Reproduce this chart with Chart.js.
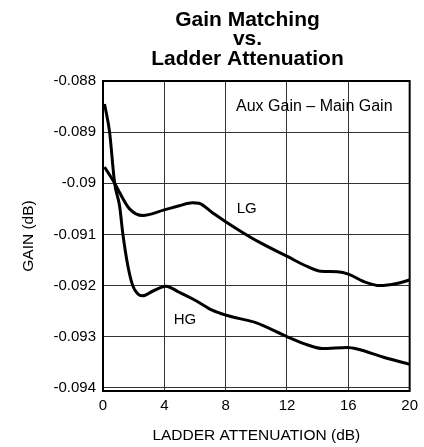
<!DOCTYPE html>
<html>
<head>
<meta charset="utf-8">
<script src="https://cdn.jsdelivr.net/npm/chart.js@4.4.0/dist/chart.umd.min.js"></script>
<style>
  body { margin: 0; background: #fff; }
  canvas { display: block; }
</style>
</head>
<body>
<canvas id="chart" width="424" height="447"></canvas>
<script>
// values
const lgX = [0.1, 0.76, 1.08, 1.73, 2.59, 4.0, 4.97, 5.83, 6.26, 7.12, 8.05, 9.05, 10.13, 12.02, 13.35, 14.21, 15.29, 16.05, 17.0, 18.08, 19.15, 20];
const lgY = [-0.08968, -0.0900, -0.09018, -0.0905, -0.09063, -0.09052, -0.09044, -0.09038, -0.09039, -0.09057, -0.09076, -0.09095, -0.09114, -0.09143, -0.09163, -0.09172, -0.09173, -0.09178, -0.09192, -0.0920, -0.09196, -0.09189];

const hgX = [0.1, 0.43, 0.76, 1.08, 1.3, 1.62, 1.94, 2.26, 2.59, 3.23, 4.1, 4.97, 6.04, 7.12, 8.05, 8.84, 9.92, 12.02, 13.35, 14.32, 15.94, 16.58, 18.3, 20];
const hgY = [-0.08845, -0.0890, -0.0900, -0.09044, -0.0910, -0.09161, -0.0920, -0.09216, -0.0922, -0.09211, -0.09201, -0.09213, -0.09229, -0.09248, -0.09258, -0.09264, -0.09272, -0.0930, -0.09316, -0.09323, -0.09321, -0.09324, -0.0934, -0.09354];

const xTickValues = [0, 4, 8, 12, 16, 20];
const yTickValues = [-0.094, -0.093, -0.092, -0.091, -0.09, -0.089, -0.088];
const yTickLabels = ['-0.094', '-0.093', '-0.092', '-0.091', '-0.09', '-0.089', '-0.088'];

const titleLines = ['Gain Matching', 'vs.', 'Ladder Attenuation'];
const noteText = ['Aux Gain \u2013 Main Gain', 'LG', 'HG'];
const noteX = [13.78, 9.37, 5.34];
const noteY = [-0.0885, -0.0905, -0.09267];

const FONT = "'Liberation Sans', Arial, Helvetica, sans-serif";
Chart.defaults.font.family = FONT;
Chart.defaults.color = '#000';

const toPoints = (xs, ys) => xs.map((x, i) => ({ x: x, y: ys[i] }));

const frameAndNotes = {
  id: 'frameAndNotes',
  afterDraw(chart) {
    const { ctx, chartArea: a, scales } = chart;
    ctx.save();
    ctx.strokeStyle = '#000';
    ctx.lineWidth = 2;
    ctx.strokeRect(a.left, a.top, a.right - a.left, a.bottom - a.top);

    ctx.fillStyle = '#000';
    ctx.textAlign = 'center';

    // three line bold title, a bit left of the plot centre
    ctx.textBaseline = 'alphabetic';
    ctx.font = 'bold 21px ' + FONT;
    const baselines = [26, 45, 64.5];
    titleLines.forEach((t, i) => ctx.fillText(t, 247.5, baselines[i]));

    ctx.textBaseline = 'middle';
    noteText.forEach((t, i) => {
      ctx.font = (i === 0 ? 16 : 15) + 'px ' + FONT;
      ctx.fillText(t, scales.x.getPixelForValue(noteX[i]), scales.y.getPixelForValue(noteY[i]));
    });
    ctx.restore();
  }
};

new Chart(document.getElementById('chart'), {
  type: 'line',
  data: {
    datasets: [
      { label: 'LG', data: toPoints(lgX, lgY) },
      { label: 'HG', data: toPoints(hgX, hgY) }
    ]
  },
  options: {
    responsive: false,
    animation: false,
    devicePixelRatio: 1,
    layout: { padding: { left: 0, right: 11, top: 81, bottom: 0 } },
    elements: {
      line: { borderColor: '#000', borderWidth: 3, cubicInterpolationMode: 'monotone', fill: false },
      point: { radius: 0 }
    },
    plugins: {
      legend: { display: false },
      tooltip: { enabled: false },
      title: { display: false }
    },
    scales: {
      x: {
        type: 'linear',
        min: 0,
        max: 20,
        afterBuildTicks: s => { s.ticks = xTickValues.map(v => ({ value: v })); },
        afterFit: s => { s.height = 56; },
        grid: { color: '#333', lineWidth: 1, drawTicks: false },
        border: { display: false },
        ticks: { font: { size: 15 }, padding: 6, color: '#000' },
        title: {
          display: true,
          text: 'LADDER ATTENUATION (dB)',
          font: { size: 15.5 },
          color: '#000',
          padding: { top: 0, bottom: 1.5 }
        }
      },
      y: {
        type: 'linear',
        min: -0.09406,
        max: -0.088,
        afterBuildTicks: s => { s.ticks = yTickValues.map(v => ({ value: v })); },
        afterFit: s => { s.width = 103; },
        grid: { color: '#333', lineWidth: 1, drawTicks: false },
        border: { display: false },
        ticks: {
          font: { size: 15 },
          padding: 7,
          color: '#000',
          callback: (v, i) => yTickLabels[i]
        },
        title: {
          display: true,
          text: 'GAIN (dB)',
          font: { size: 15.5 },
          color: '#000',
          padding: { top: 19, bottom: 0 }
        }
      }
    }
  },
  plugins: [frameAndNotes]
});
</script>
</body>
</html>
